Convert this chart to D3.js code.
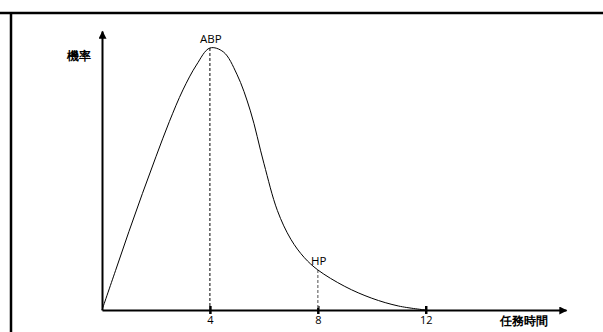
<!DOCTYPE html>
<html>
<head>
<meta charset="utf-8">
<script src="https://cdn.jsdelivr.net/npm/d3@7"></script>
<style>
  html, body { margin: 0; padding: 0; background: #fff; }
  svg { display: block; }
  text { font-family: "Open Sans", "Liberation Sans", sans-serif; }
</style>
</head>
<body>
<svg id="chart" width="603" height="332"></svg>
<script>
// Task-time probability curve (relative probability vs. time)
const taskTime    = [0, 0.5, 1, 1.5, 2, 2.5, 3, 3.5, 4, 4.5, 5, 5.5, 6, 6.5, 7, 7.5, 8, 9, 10, 11, 12];
const probability = [0, 0.15, 0.3, 0.445, 0.585, 0.72, 0.84, 0.935, 1.0, 0.985, 0.9, 0.76, 0.56, 0.38, 0.27, 0.2, 0.153, 0.09, 0.045, 0.015, 0];
const tickValues  = [4, 8, 12];
const markers     = [{ label: "ABP", t: 4 }, { label: "HP", t: 8 }];
const axisLabels  = { x: "任務時間", y: "機率" };

const svg = d3.select("#chart");

// frame lines along top and left
svg.append("line").attr("x1", 0).attr("x2", 603).attr("y1", 13).attr("y2", 13)
  .attr("stroke", "#000").attr("stroke-width", 2.5);
svg.append("line").attr("x1", 11).attr("x2", 11).attr("y1", 13).attr("y2", 332)
  .attr("stroke", "#000").attr("stroke-width", 2.5);

const x = d3.scaleLinear().domain([0, 17.2]).range([102, 566]);
const y = d3.scaleLinear().domain([0, 1]).range([310, 48]);
const yAxisScale = d3.scaleLinear().domain([0, 1.065]).range([310, y(1.065)]);

const defs = svg.append("defs");
defs.append("marker")
  .attr("id", "arrow")
  .attr("viewBox", "0 0 10 10")
  .attr("refX", 9).attr("refY", 5)
  .attr("markerWidth", 9).attr("markerHeight", 8)
  .attr("markerUnits", "userSpaceOnUse")
  .attr("orient", "auto")
  .append("path").attr("d", "M0,0L10,5L0,10Z").attr("fill", "#000");

// x axis
const xAxis = svg.append("g")
  .attr("transform", `translate(0,${y(0)})`)
  .call(d3.axisBottom(x).tickValues(tickValues).tickSizeOuter(0).tickSize(0).tickPadding(6));
xAxis.select(".domain").attr("stroke", "#000").attr("stroke-width", 2).attr("marker-end", "url(#arrow)");
xAxis.selectAll(".tick line").attr("y1", -4).attr("y2", 4).attr("stroke", "#000").attr("stroke-width", 2.5);
xAxis.selectAll(".tick text")
  .attr("font-family", "'Open Sans', 'Liberation Sans', sans-serif")
  .attr("font-size", 11).attr("fill", "#000");

// y axis
const yAxis = svg.append("g")
  .attr("transform", `translate(${x(0)},0)`)
  .call(d3.axisLeft(yAxisScale).tickValues([]).tickSizeOuter(0));
yAxis.select(".domain").attr("stroke", "#000").attr("stroke-width", 2).attr("marker-end", "url(#arrow)");

// axis titles
svg.append("text").attr("x", 79).attr("y", 57)
  .attr("text-anchor", "middle").attr("dominant-baseline", "middle")
  .attr("font-family", "'Noto Sans CJK TC', sans-serif").attr("font-weight", 900)
  .attr("font-size", 12).attr("fill", "#000").text(axisLabels.y);
svg.append("text").attr("x", 524).attr("y", 322)
  .attr("text-anchor", "middle").attr("dominant-baseline", "middle")
  .attr("font-family", "'Noto Sans CJK TC', sans-serif").attr("font-weight", 900)
  .attr("font-size", 12).attr("fill", "#000").text(axisLabels.x);

const data = taskTime.map((t, i) => ({ t, p: probability[i] }));
const valueAt = t => probability[taskTime.indexOf(t)];

// reference dashed lines
markers.forEach((m, i) => {
  svg.append("line")
    .attr("x1", x(m.t)).attr("x2", x(m.t))
    .attr("y1", y(valueAt(m.t))).attr("y2", y(0) - 2)
    .attr("stroke", i === 0 ? "#000" : "#888")
    .attr("stroke-width", i === 0 ? 1 : 1.5)
    .attr("stroke-dasharray", "3,2");
});

// curve
svg.append("path")
  .datum(data)
  .attr("fill", "none").attr("stroke", "#000").attr("stroke-width", 1)
  .attr("d", d3.line().x(d => x(d.t)).y(d => y(d.p)).curve(d3.curveCatmullRom.alpha(0.5)));

// point labels
markers.forEach(m => {
  svg.append("text")
    .attr("x", x(m.t) + 1).attr("y", y(valueAt(m.t)) - 5)
    .attr("text-anchor", "middle")
    .attr("font-size", 11.5).attr("fill", "#000")
    .text(m.label);
});
</script>
</body>
</html>
